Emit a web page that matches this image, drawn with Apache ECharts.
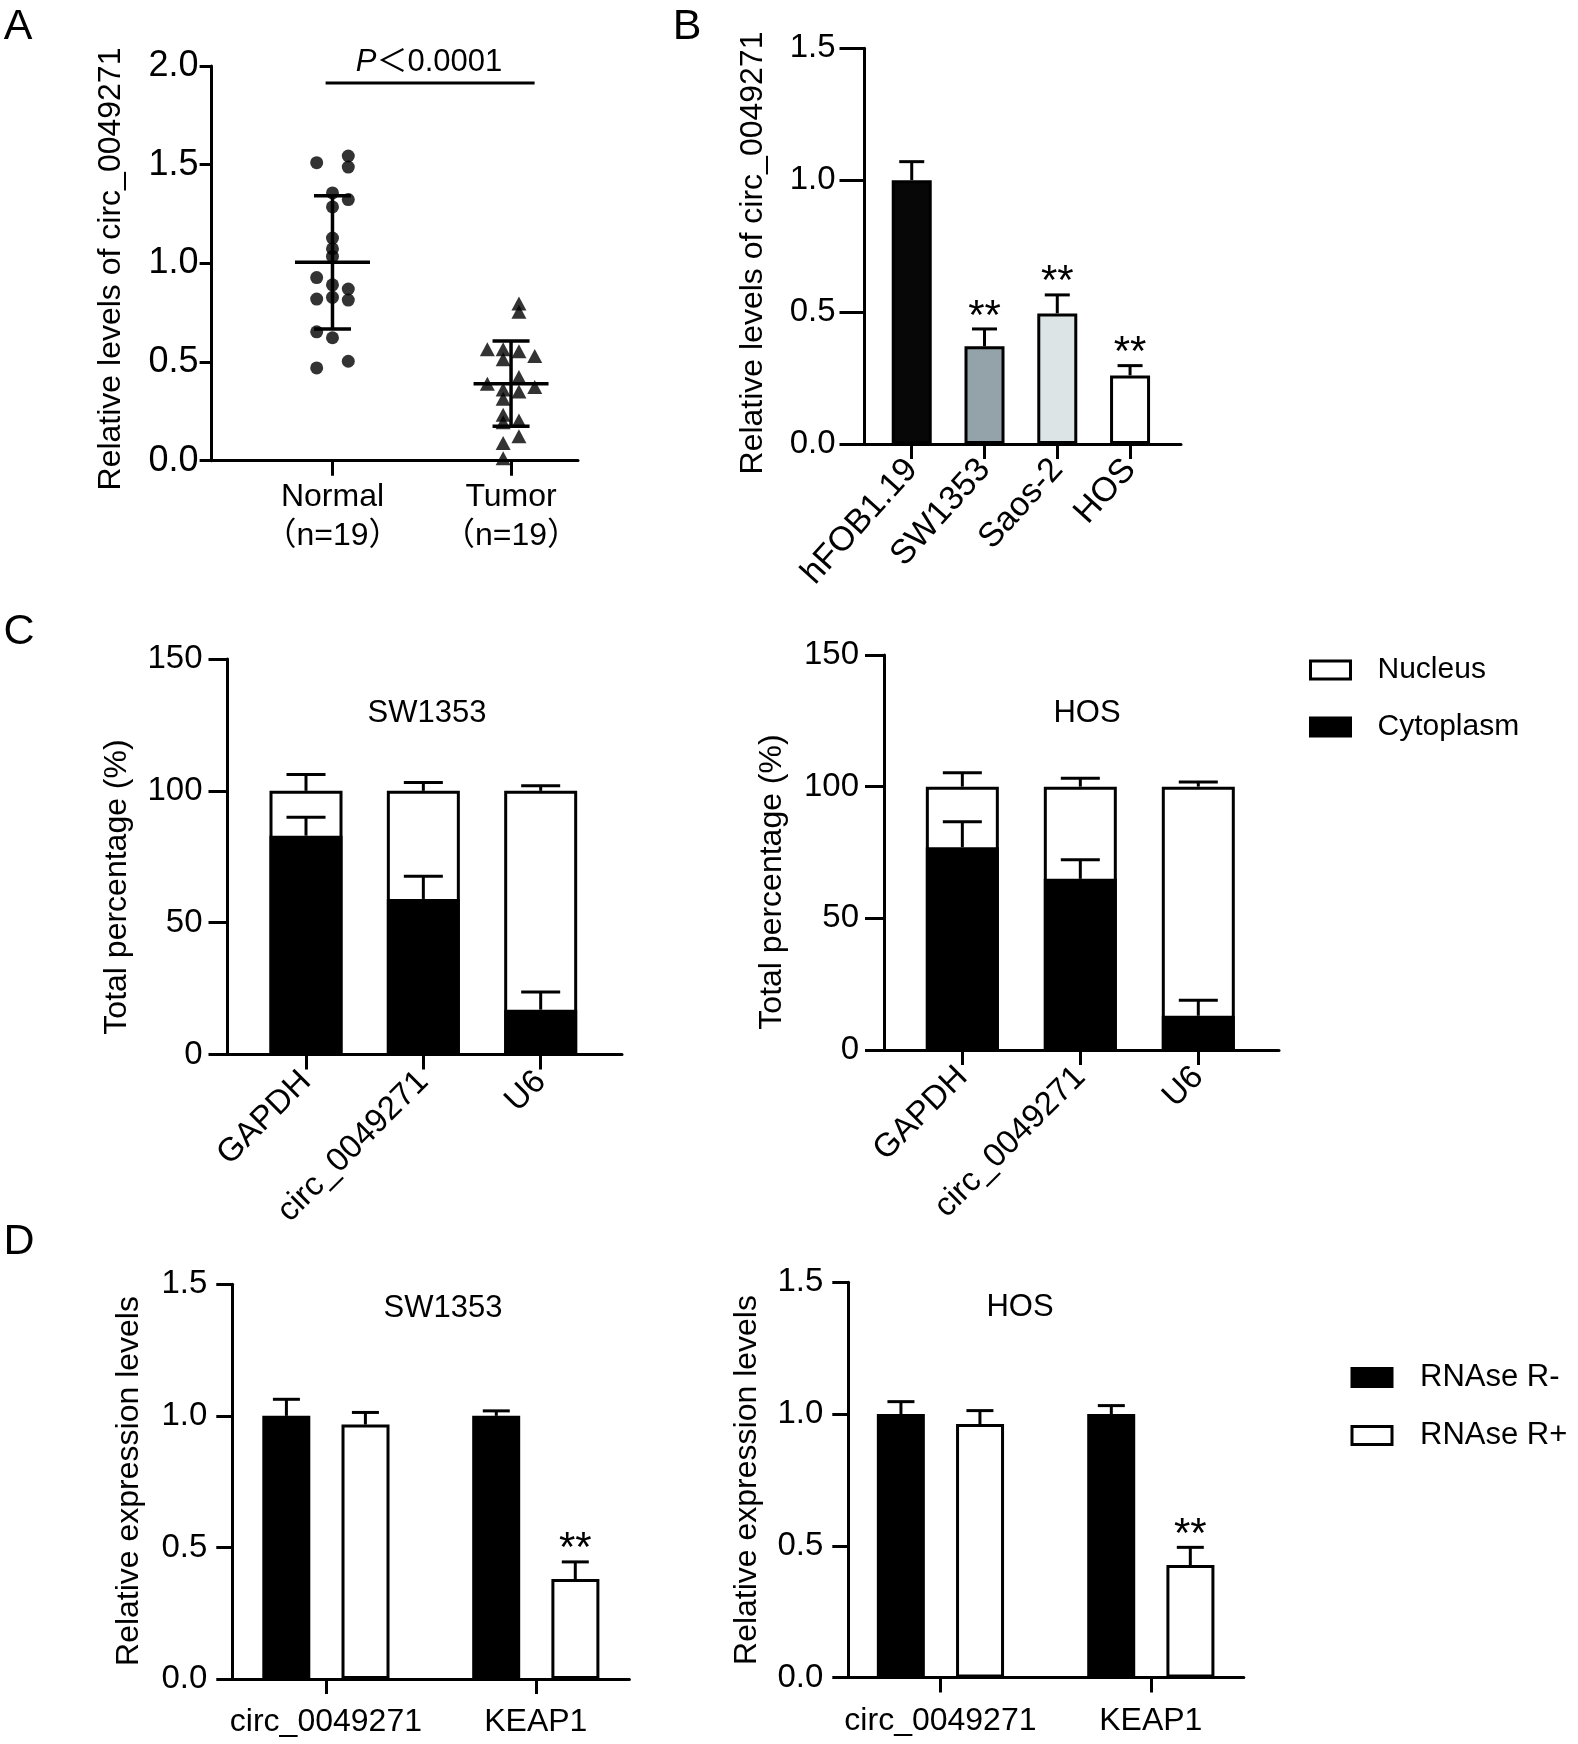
<!DOCTYPE html>
<html>
<head>
<meta charset="utf-8">
<script src="https://cdn.jsdelivr.net/npm/echarts@6/dist/echarts.min.js"></script>
<style>html,body{margin:0;padding:0;background:#fff}#c{width:1578px;height:1744px}</style>
</head>
<body>
<div id="c"></div>
<script>
// ---------------- DATA ----------------
// Panel A
const groupsA = ['Normal', 'Tumor'];
const groupNA = ['（n=19）', '（n=19）'];
const normalValues  = [1.51, 1.544, 1.488, 1.357, 1.323, 1.286, 1.128, 1.074, 1.035, 0.928, 0.891, 0.870, 0.819, 0.828, 0.814, 0.653, 0.623, 0.504, 0.470];
const normalColumns = [-1, 1, 1, 0, 1, 0, 0, 0, 0, -1, 0, 1, -1, 0, 1, -1, 0, 1, -1];
const tumorValues  = [0.797, 0.755, 0.565, 0.565, 0.514, 0.555, 0.531, 0.390, 0.424, 0.373, 0.361, 0.351, 0.314, 0.233, 0.195, 0.204, 0.124, 0.090, 0.012];
const tumorColumns = [0.5, 0.5, -1.5, -0.5, -0.5, 0.5, 1.5, -1.5, 0.5, 1.5, -0.5, 0.5, -0.5, -0.5, -0.5, 0.5, 0.5, -0.5, -0.5];
const meanA = [1.005, 0.39];
const sdA = [0.338, 0.216];
const pLabel = '＜0.0001';

// Panel B
const cellLines = ['hFOB1.19', 'SW1353', 'Saos-2', 'HOS'];
const relLevels = [1.0, 0.37, 0.495, 0.26];
const relErr = [0.07, 0.066, 0.07, 0.037];
const relSig = ['', '**', '**', '**'];

// Panel C
const genesC = ['GAPDH', 'circ_0049271', 'U6'];
const cytoSW1353 = [83, 59, 17];
const cytoSW1353Err = [7, 8.6, 6.7];
const nucSW1353 = [17, 41, 83];
const nucSW1353Err = [6.2, 3.2, 1.9];
const cytoHOS = [77, 65, 13];
const cytoHOSErr = [9.7, 7.2, 5.9];
const nucHOS = [23, 35, 87];
const nucHOSErr = [5.3, 3.2, 1.8];

// Panel D
const genesD = ['circ_0049271', 'KEAP1'];
const minusSW1353 = [1.0, 1.0];
const minusSW1353Err = [0.063, 0.019];
const plusSW1353 = [0.967, 0.38];
const plusSW1353Err = [0.046, 0.065];
const minusHOS = [1.0, 1.0];
const minusHOSErr = [0.047, 0.032];
const plusHOS = [0.962, 0.427];
const plusHOSErr = [0.051, 0.067];
const sigD = ['', '**'];

// ---------------- STYLE ----------------
const FONT = "'Liberation Sans', Arial, 'Noto Sans CJK SC', sans-serif";
const BLACK = '#000';
const LW = 3;
const B_COLORS = ['#070707', '#93a3a9', '#dce4e5', '#ffffff'];

function gridBox(left, top, right, bottom) {
  return { left, top, width: right - left, height: bottom - top, containLabel: false, outerBoundsMode: 'none' };
}
function xVal(gi, min, max, cats, fontSize, rotate, margin, lineHeight) {
  const idx = cats.map((_, i) => i);
  return {
    type: 'value', gridIndex: gi, min, max,
    axisLine: { show: true, onZero: false, lineStyle: { color: BLACK, width: LW } },
    axisTick: { show: true, customValues: idx, length: 15, lineStyle: { color: BLACK, width: LW } },
    axisLabel: { show: true, customValues: idx, rotate, margin, fontSize, fontFamily: FONT, color: BLACK,
      lineHeight: lineHeight || fontSize * 1.2, formatter: v => cats[Math.round(v)] },
    splitLine: { show: false }
  };
}
function yVal(gi, max, interval, dec, fontSize, tickLen, margin) {
  return {
    type: 'value', gridIndex: gi, min: 0, max, interval,
    axisLine: { show: true, onZero: false, lineStyle: { color: BLACK, width: LW } },
    axisTick: { show: true, length: tickLen, lineStyle: { color: BLACK, width: LW } },
    axisLabel: { fontSize, fontFamily: FONT, color: BLACK, margin, formatter: v => v.toFixed(dec) },
    splitLine: { show: false }
  };
}
function txt(x, y, text, size, opts) {
  opts = opts || {};
  return {
    type: 'text', x, y, rotation: opts.rotation || 0, silent: true,
    style: { text, fontSize: size, fontFamily: FONT, fill: BLACK, align: opts.align || 'center',
      verticalAlign: opts.va || 'middle', rich: opts.rich }
  };
}
function errorBars(axis, tops, errs, capW, offset, sig, sigSize) {
  return {
    type: 'custom', xAxisIndex: axis, yAxisIndex: axis, silent: true, z: 3,
    data: tops.map((t, i) => [i, t, errs[i]]),
    renderItem(params, api) {
      const i = params.dataIndex;
      const base = api.coord([api.value(0), api.value(1)]);
      const top = api.coord([api.value(0), api.value(1) + api.value(2)]);
      const cx = base[0] + offset;
      const ls = { stroke: BLACK, lineWidth: LW };
      const ch = [
        { type: 'line', shape: { x1: cx, y1: base[1], x2: cx, y2: top[1] }, style: ls },
        { type: 'line', shape: { x1: cx - capW / 2, y1: top[1], x2: cx + capW / 2, y2: top[1] }, style: ls }
      ];
      if (sig && sig[i]) {
        ch.push({ type: 'text', style: { text: sig[i], x: cx, y: top[1] - 12, align: 'center', verticalAlign: 'middle',
          fontSize: sigSize, fontFamily: FONT, fill: BLACK } });
      }
      return { type: 'group', children: ch };
    }
  };
}
const barStyle = (c) => ({ color: c, borderColor: BLACK, borderWidth: LW });

const COL_STEP = 15.8;
const sum = (a, b) => a.map((v, i) => v + b[i]);

const option = {
  animation: false,
  backgroundColor: '#fff',
  grid: [
    gridBox(211.6, 66, 578, 460.7),      // A
    gridBox(864.5, 48.2, 1181, 444),     // B
    gridBox(227.5, 659, 622, 1054.5),    // C left
    gridBox(884, 655, 1279, 1050),       // C right
    gridBox(232.3, 1284.3, 629.4, 1679), // D left
    gridBox(848.3, 1282.3, 1243.8, 1677.5) // D right
  ],
  xAxis: [
    xVal(0, -0.677, 1.375, groupsA.map((g, i) => g + '\n' + groupNA[i]), 32, 0, 17, 39),
    xVal(1, -0.649, 3.70, cellLines, 34, 48, 20),
    xVal(2, -0.669, 2.693, genesC, 33, 45, 22),
    xVal(3, -0.664, 2.684, genesC, 33, 45, 22),
    xVal(4, -0.446, 1.446, genesD, 32, 0, 24),
    xVal(5, -0.438, 1.442, genesD, 32, 0, 24)
  ],
  yAxis: [
    yVal(0, 2.0, 0.5, 1, 36, 12, 13),
    yVal(1, 1.5, 0.5, 1, 33, 25, 29),
    yVal(2, 150, 50, 0, 33, 19, 25),
    yVal(3, 150, 50, 0, 33, 19, 25),
    yVal(4, 1.5, 0.5, 1, 33, 16, 25),
    yVal(5, 1.5, 0.5, 1, 33, 16, 25)
  ],
  legend: [
    { left: 1309, top: 655, orient: 'vertical', padding: 0, itemWidth: 40, itemHeight: 18, itemGap: 27, selectedMode: false,
      textStyle: { fontSize: 30, fontFamily: FONT, color: BLACK, padding: [0, 0, 0, 22] },
      data: [ { name: 'Nucleus', icon: 'rect', itemStyle: barStyle('#fff') },
              { name: 'Cytoplasm', icon: 'rect', itemStyle: barStyle(BLACK) } ] },
    { left: 1350.5, top: 1362, orient: 'vertical', padding: 0, itemWidth: 40, itemHeight: 18, itemGap: 27, selectedMode: false,
      textStyle: { fontSize: 31, fontFamily: FONT, color: BLACK, padding: [0, 0, 0, 23] },
      data: [ { name: 'RNAse R-', icon: 'rect', itemStyle: barStyle(BLACK) },
              { name: 'RNAse R+', icon: 'rect', itemStyle: barStyle('#fff') } ] }
  ],
  series: [
    // ---- A ----
    { type: 'scatter', name: 'Normal', xAxisIndex: 0, yAxisIndex: 0, symbol: 'circle', symbolSize: 13,
      itemStyle: { color: BLACK }, silent: true,
      data: normalValues.map((v, i) => ({ value: [0, v], symbolOffset: [normalColumns[i] * COL_STEP, 0] })) },
    { type: 'scatter', name: 'Tumor', xAxisIndex: 0, yAxisIndex: 0, symbol: 'triangle', symbolSize: [15, 14],
      itemStyle: { color: BLACK }, silent: true,
      data: tumorValues.map((v, i) => ({ value: [1, v], symbolOffset: [tumorColumns[i] * COL_STEP, 0] })) },
    { type: 'custom', xAxisIndex: 0, yAxisIndex: 0, silent: true, z: 4,
      data: meanA.map((m, i) => [i, m, sdA[i]]),
      renderItem(params, api) {
        const x = api.value(0), m = api.value(1), s = api.value(2);
        const c = api.coord([x, m]), hi = api.coord([x, m + s]), lo = api.coord([x, m - s]);
        const ls = { stroke: BLACK, lineWidth: 3.5 };
        return { type: 'group', children: [
          { type: 'line', shape: { x1: c[0] - 37.5, y1: c[1], x2: c[0] + 37.5, y2: c[1] }, style: ls },
          { type: 'line', shape: { x1: c[0], y1: hi[1], x2: c[0], y2: lo[1] }, style: ls },
          { type: 'line', shape: { x1: c[0] - 18.5, y1: hi[1], x2: c[0] + 18.5, y2: hi[1] }, style: ls },
          { type: 'line', shape: { x1: c[0] - 18.5, y1: lo[1], x2: c[0] + 18.5, y2: lo[1] }, style: ls }
        ] };
      } },
    // ---- B ----
    { type: 'bar', name: 'cell lines', xAxisIndex: 1, yAxisIndex: 1, barWidth: 40, silent: true,
      data: relLevels.map((v, i) => ({ value: [i, v], itemStyle: barStyle(B_COLORS[i]) })) },
    errorBars(1, relLevels, relErr, 25, 0, relSig, 42),
    // ---- C left (SW1353) ----
    { type: 'bar', name: 'Nucleus', xAxisIndex: 2, yAxisIndex: 2, barWidth: 73, barGap: '-100%', silent: true,
      itemStyle: barStyle('#fff'), data: sum(cytoSW1353, nucSW1353).map((v, i) => [i, v]) },
    { type: 'bar', name: 'Cytoplasm', xAxisIndex: 2, yAxisIndex: 2, barWidth: 73, barGap: '-100%', silent: true,
      itemStyle: barStyle(BLACK), data: cytoSW1353.map((v, i) => [i, v]) },
    errorBars(2, cytoSW1353, cytoSW1353Err, 39, 0),
    errorBars(2, sum(cytoSW1353, nucSW1353), nucSW1353Err, 39, 0),
    // ---- C right (HOS) ----
    { type: 'bar', name: 'Nucleus', xAxisIndex: 3, yAxisIndex: 3, barWidth: 73, barGap: '-100%', silent: true,
      itemStyle: barStyle('#fff'), data: sum(cytoHOS, nucHOS).map((v, i) => [i, v]) },
    { type: 'bar', name: 'Cytoplasm', xAxisIndex: 3, yAxisIndex: 3, barWidth: 73, barGap: '-100%', silent: true,
      itemStyle: barStyle(BLACK), data: cytoHOS.map((v, i) => [i, v]) },
    errorBars(3, cytoHOS, cytoHOSErr, 39, 0),
    errorBars(3, sum(cytoHOS, nucHOS), nucHOSErr, 39, 0),
    // ---- D left (SW1353) ----
    { type: 'bar', name: 'RNAse R-', xAxisIndex: 4, yAxisIndex: 4, barWidth: 48, barGap: '65%', silent: true,
      itemStyle: barStyle(BLACK), data: minusSW1353.map((v, i) => [i, v]) },
    { type: 'bar', name: 'RNAse R+', xAxisIndex: 4, yAxisIndex: 4, barWidth: 48, barGap: '65%', silent: true,
      itemStyle: barStyle('#fff'), data: plusSW1353.map((v, i) => [i, v]) },
    errorBars(4, minusSW1353, minusSW1353Err, 27, -39.5),
    errorBars(4, plusSW1353, plusSW1353Err, 27, 39.5, sigD, 42),
    // ---- D right (HOS) ----
    { type: 'bar', name: 'RNAse R-', xAxisIndex: 5, yAxisIndex: 5, barWidth: 48, barGap: '65%', silent: true,
      itemStyle: barStyle(BLACK), data: minusHOS.map((v, i) => [i, v]) },
    { type: 'bar', name: 'RNAse R+', xAxisIndex: 5, yAxisIndex: 5, barWidth: 48, barGap: '65%', silent: true,
      itemStyle: barStyle('#fff'), data: plusHOS.map((v, i) => [i, v]) },
    errorBars(5, minusHOS, minusHOSErr, 27, -39.5),
    errorBars(5, plusHOS, plusHOSErr, 27, 39.5, sigD, 42)
  ],
  graphic: [
    // panel letters
    txt(18, 27, 'A', 43), txt(687, 27, 'B', 43), txt(19, 632, 'C', 43), txt(19, 1242, 'D', 43),
    // axis titles
    txt(111, 269, 'Relative levels of circ_0049271', 32, { rotation: Math.PI / 2 }),
    txt(753, 253, 'Relative levels of circ_0049271', 32, { rotation: Math.PI / 2 }),
    txt(117, 887, 'Total percentage (%)', 32, { rotation: Math.PI / 2 }),
    txt(772, 882, 'Total percentage (%)', 32, { rotation: Math.PI / 2 }),
    txt(129, 1481, 'Relative expression levels', 32, { rotation: Math.PI / 2 }),
    txt(747, 1480, 'Relative expression levels', 32, { rotation: Math.PI / 2 }),
    // panel subtitles
    txt(427, 713, 'SW1353', 31), txt(1087, 713, 'HOS', 31),
    txt(443, 1308, 'SW1353', 31), txt(1020, 1307, 'HOS', 31),
    // significance bracket in A
    { type: 'line', silent: true, shape: { x1: 325.6, y1: 82.9, x2: 534.6, y2: 82.9 }, style: { stroke: BLACK, lineWidth: 3 } },
    txt(429, 62, '{i|P}' + pLabel, 31, { rich: { i: { fontStyle: 'italic', fontSize: 31, fontFamily: FONT } } })
  ]
};

const chart = echarts.init(document.getElementById('c'), null, { renderer: 'canvas', width: 1578, height: 1744 });
chart.setOption(option);
</script>
</body>
</html>
